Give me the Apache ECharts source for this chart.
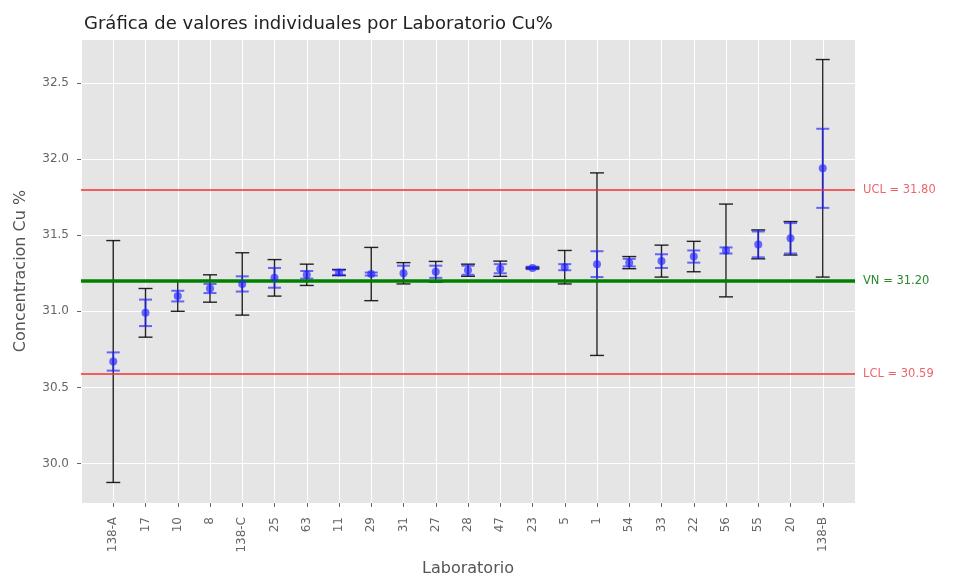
<!DOCTYPE html>
<html>
<head>
<meta charset="utf-8">
<script src="https://cdn.jsdelivr.net/npm/echarts@6/dist/echarts.min.js"></script>
<style>
  html, body { margin: 0; padding: 0; background: #fff; }
  #chart { width: 954px; height: 577px; }
</style>
</head>
<body>
<div id="chart"></div>
<script>
// laboratorios, ordenados por media
var labs = ['138-A', '17', '10', '8', '138-C', '25', '63', '11', '29', '31', '27', '28',
            '47', '23', '5', '1', '54', '33', '22', '56', '55', '20', '138-B'];
var medias = [30.67, 30.99, 31.10, 31.15, 31.18, 31.22, 31.24, 31.255, 31.245, 31.25, 31.26, 31.27,
              31.28, 31.285, 31.29, 31.31, 31.32, 31.33, 31.36, 31.40, 31.44, 31.48, 31.94];
// semiamplitud barra negra (incertidumbre expandida)
var errNegro = [0.795, 0.16, 0.10, 0.09, 0.205, 0.12, 0.07, 0.02, 0.175, 0.07, 0.068, 0.04,
                0.05, 0.005, 0.11, 0.60, 0.04, 0.105, 0.10, 0.305, 0.095, 0.11, 0.715];
// semiamplitud barra azul (desviacion)
var errAzul = [0.06, 0.087, 0.035, 0.03, 0.05, 0.065, 0.025, 0.015, 0.01, 0.05, 0.04, 0.03,
               0.03, 0.008, 0.02, 0.085, 0.025, 0.045, 0.04, 0.02, 0.085, 0.10, 0.26];

var UCL = 31.80;
var VN = 31.20;
var LCL = 30.59;

var yTicks = [30.0, 30.5, 31.0, 31.5, 32.0, 32.5];

var puntos = labs.map(function (l, i) { return [i, medias[i]]; });
var barrasNegras = labs.map(function (l, i) { return [i, medias[i], errNegro[i]]; });
var barrasAzules = labs.map(function (l, i) { return [i, medias[i], errAzul[i]]; });

function errorBar(color, capW, lw, opacity) {
    return function (params, api) {
        var x = api.value(0), m = api.value(1), h = api.value(2);
        var top = api.coord([x, m + h]);
        var bot = api.coord([x, m - h]);
        var st = { stroke: color, lineWidth: lw, opacity: opacity };
        return {
            type: 'group',
            children: [
                { type: 'line', shape: { x1: top[0], y1: top[1], x2: bot[0], y2: bot[1] }, style: st },
                { type: 'line', shape: { x1: top[0] - capW / 2, y1: top[1], x2: top[0] + capW / 2, y2: top[1] }, style: st },
                { type: 'line', shape: { x1: bot[0] - capW / 2, y1: bot[1], x2: bot[0] + capW / 2, y2: bot[1] }, style: st }
            ]
        };
    };
}

var chart = echarts.init(document.getElementById('chart'));

var option = {
    animation: false,
    backgroundColor: '#ffffff',
    title: {
        text: 'Gráfica de valores individuales por Laboratorio Cu%',
        left: 79,
        top: 10,
        textStyle: { fontFamily: 'DejaVu Sans', fontSize: 18, fontWeight: 'normal', color: '#222' }
    },
    grid: {
        left: 81,
        right: 99,
        top: 39,
        bottom: 74,
        containLabel: false,
        outerBoundsMode: 'none',
        show: true,
        backgroundColor: '#e5e5e5',
        borderWidth: 0
    },
    xAxis: {
        type: 'value',
        min: -1,
        max: 23,
        minInterval: 1,
        maxInterval: 1,
        name: 'Laboratorio',
        nameLocation: 'middle',
        nameGap: 54,
        nameTextStyle: { fontFamily: 'DejaVu Sans', fontSize: 16, color: '#555' },
        axisLine: { show: false, onZero: false },
        axisTick: { show: true, length: 4, lineStyle: { color: '#666' } },
        axisLabel: {
            rotate: 90,
            margin: 14,
            fontFamily: 'DejaVu Sans',
            fontSize: 12,
            color: '#666',
            showMinLabel: false,
            showMaxLabel: false,
            formatter: function (v) {
                return (v >= 0 && v < labs.length && v === Math.round(v)) ? labs[v] : '';
            }
        },
        splitLine: { show: true, lineStyle: { color: '#ffffff', width: 1 } }
    },
    yAxis: {
        type: 'value',
        min: 29.74,
        max: 32.79,
        splitNumber: 5,
        minInterval: 0.5,
        maxInterval: 0.5,
        name: 'Concentracion Cu %',
        nameLocation: 'middle',
        nameGap: 52,
        nameTextStyle: { fontFamily: 'DejaVu Sans', fontSize: 16, color: '#555' },
        axisLine: { show: false, onZero: false },
        axisTick: { show: true, length: 4, lineStyle: { color: '#666' } },
        axisLabel: {
            margin: 12,
            fontFamily: 'DejaVu Sans',
            fontSize: 12,
            color: '#666',
            showMinLabel: false,
            showMaxLabel: false,
            formatter: function (v) {
                for (var i = 0; i < yTicks.length; i++) {
                    if (Math.abs(v - yTicks[i]) < 1e-6) return yTicks[i].toFixed(1);
                }
                return '';
            }
        },
        splitLine: { show: true, lineStyle: { color: '#ffffff', width: 1 } }
    },
    series: [
        {
            type: 'custom',
            name: 'U',
            renderItem: errorBar('#000000', 14, 1.4, 0.85),
            data: barrasNegras,
            z: 3,
            markLine: {
                silent: true,
                symbol: 'none',
                animation: false,
                label: {
                    position: 'end',
                    distance: 8,
                    fontFamily: 'DejaVu Sans',
                    fontSize: 11.5
                },
                data: [
                    { yAxis: UCL, lineStyle: { color: '#f03030', width: 2, type: 'solid', opacity: 0.75 },
                      label: { formatter: 'UCL = ' + UCL.toFixed(2), color: '#e8303a' } },
                    { yAxis: LCL, lineStyle: { color: '#f03030', width: 2, type: 'solid', opacity: 0.75 },
                      label: { formatter: 'LCL = ' + LCL.toFixed(2), color: '#e8303a' } },
                    { yAxis: VN, lineStyle: { color: '#008000', width: 3.5, type: 'solid', opacity: 1 },
                      label: { formatter: 'VN = ' + VN.toFixed(2), color: '#2a8a2a' } }
                ]
            }
        },
        {
            type: 'custom',
            name: 's',
            renderItem: errorBar('#1f1fff', 13, 2, 0.65),
            data: barrasAzules,
            z: 4
        },
        {
            type: 'scatter',
            name: 'media',
            data: puntos,
            symbol: 'circle',
            symbolSize: 8,
            itemStyle: { color: '#2020ff', opacity: 0.65 },
            z: 5
        }
    ]
};

option && chart.setOption(option);
</script>
</body>
</html>
